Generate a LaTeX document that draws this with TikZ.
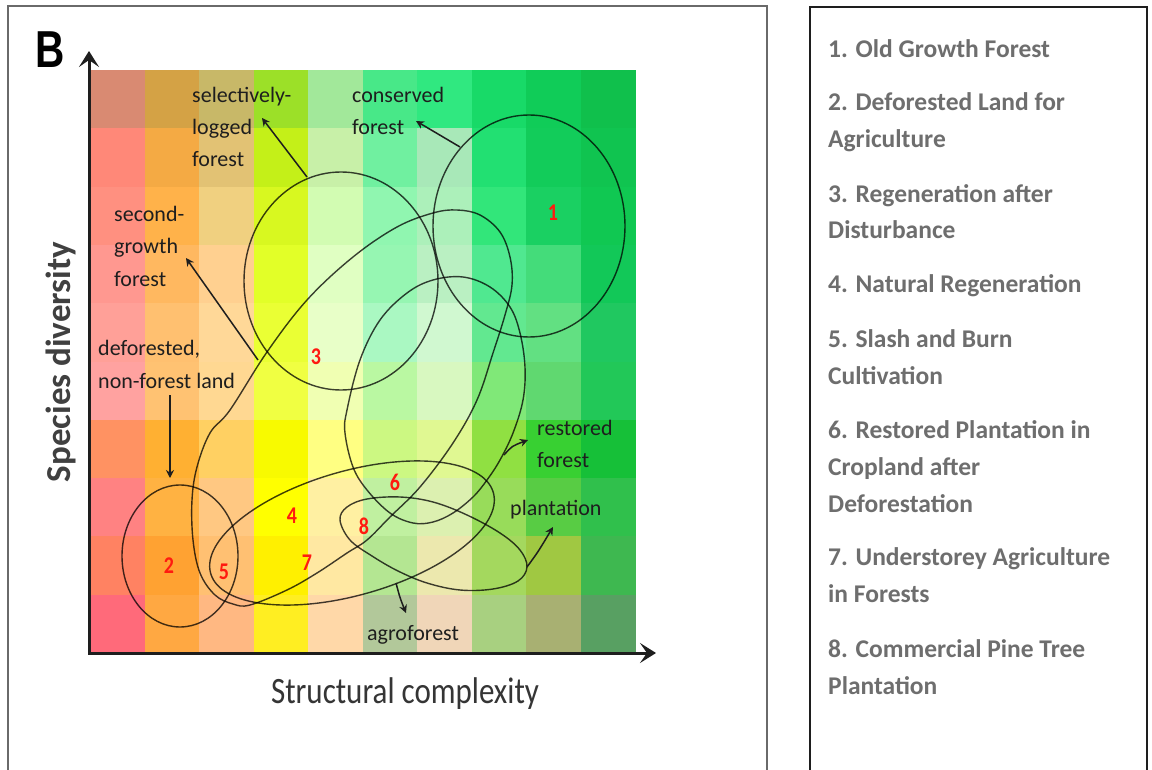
\documentclass[tikz,border=0pt]{standalone}
\usepackage{fontspec}
\setmainfont{Carlito}
\newfontfamily\headfont{Liberation Sans}
\usetikzlibrary{arrows.meta}

\definecolor{framegray}{HTML}{6A6A6A}
\definecolor{legendgray}{HTML}{6E6E6E}
\definecolor{numred}{HTML}{FF1A10}
\definecolor{inkdark}{HTML}{1E1E1E}

\begin{document}
\begin{tikzpicture}[x=1pt,y=-1pt,
  lbl/.style={anchor=base west, inner sep=0pt, font=\fontsize{22}{26}\selectfont, text=inkdark},
  num/.style={inner sep=0pt, font=\fontsize{20}{22}\selectfont\bfseries, text=numred},
  zone/.style={draw=black, draw opacity=.75, line width=1.4pt},
  pointer/.style={draw=inkdark, line width=1.5pt, -{Stealth[length=8pt,width=8pt]}},
  axisline/.style={draw=inkdark, line width=3pt, line cap=butt,
    {Stealth[length=16pt,width=20pt,inset=7pt]}-{Stealth[length=16pt,width=20pt,inset=7pt]}},
  legitem/.style={anchor=base west, inner sep=0pt, font=\fontsize{25.5}{28}\selectfont\bfseries, text=legendgray},
]
\useasboundingbox (0,0) rectangle (1152,770);
\fill[white] (0,0) rectangle (1152,770);

% colour field: 10 x 10 cells, rows listed from top to bottom
\foreach \rowc [count=\r from 0] in {
  {D98A72,D4A245,C8B868,9CE028,A2E89A,48E888,30E880,18DA68,10CC58,10C04C},
  {FF8878,F4AA44,E2C274,C4F018,C8F0A8,70F0A0,A8E8B8,22E072,12CC5A,10C450},
  {FF9080,FFB24A,F0D080,D8F820,D2FCB2,90F6B0,ACF0BA,32E67A,1AD062,10C852},
  {FF9890,FFB860,FFD090,E2FF28,E0FFC2,96F6B2,BAF0C2,50E890,44DC7A,12C858},
  {FFA098,FFC070,FFD898,EAFF34,E8FFC8,AAF8C2,D0F8D0,62E890,62E082,20C860},
  {FFA2A0,FFC272,FFD892,F0FF42,F0FFB2,BAF8A2,D8F8C0,80E878,60D870,22C858},
  {FF9262,FFB032,FFD062,F8FA00,FFFF82,CCF882,E0F892,90E042,38D032,16C038},
  {FF8282,FFB242,FFC882,FFFF00,FFF0A2,C0F0A0,DCF0B0,98DC5A,58CC44,30C04C},
  {FF8262,FFA232,FFC072,FFF000,FFE8A2,B4E692,ECE8AE,A4D85E,A0C842,3EB850},
  {FF6A7A,FFA842,FFB882,FFEE22,FFD8A8,B2C89A,F0D6B8,A8D080,A8B072,58A062}} {
  \foreach \cc [count=\c from 0] in \rowc {
    \definecolor{cellc}{HTML}{\cc}
    \fill[cellc] ({90+54.5*\c},{70+58.3*\r}) rectangle ({90+54.5*(\c+1)+0.6},{70+58.3*(\r+1)+0.6});
  }
}

% outer frames
\draw[framegray, line width=2pt] (8,775) -- (8,6) -- (767,6) -- (767,775);
\draw[inkdark, line width=1.5pt] (810,775) -- (810,7) -- (1147,7) -- (1147,775);

% panel letter
\node[anchor=base west, inner sep=0pt, font=\fontsize{52}{52}\headfont\bfseries, text=black] (panel) at (35,68) {\scalebox{0.78}[1]{B}};

% axes
\coordinate (ytop) at (89,51);
\coordinate (origin) at (89,653);
\coordinate (xend) at (656,653);
\draw[axisline] (ytop) -- (origin) -- (xend);

\node[anchor=base, inner sep=0pt, font=\fontsize{31}{34}\selectfont, text=inkdark!90] (xlab) at (405,703) {\scalebox{1}[1.2]{Structural complexity}};
\node[anchor=base, inner sep=0pt, rotate=90, font=\fontsize{35}{40}\selectfont\bfseries, text=inkdark!85] (ylab) at (70,362) {Species diversity};

% regions
\draw[zone] (529,226) ellipse [x radius=96, y radius=111];
\draw[zone] (180,556) ellipse [x radius=58, y radius=71];
\draw[zone] (341,281) ellipse [x radius=97, y radius=109];
\draw[zone] plot[smooth cycle, tension=0.6] coordinates {
  (250,605) (287,590) (317,573) (347,553) (367,540) (390,517) (420,487) (453,443)
  (477,400) (493,353) (505,315) (512,285) (510,257) (500,232) (480,215) (457,210)
  (433,213) (397,227) (353,257) (307,300) (267,352) (230,410) (210,433) (197,467)
  (192,500) (193,540) (200,573) (215,595) (233,604)};
\draw[zone] plot[smooth cycle, tension=0.6] coordinates {
  (347,410) (360,360) (380,320) (407,293) (433,280) (463,277) (490,287) (510,307)
  (520,333) (525,367) (523,400) (513,433) (500,460) (487,480) (473,497) (453,513)
  (433,522) (413,523) (390,513) (367,490) (353,467) (345,433)};
\draw[zone, rotate around={16:(352,533)}] (352,533) ellipse [x radius=147, y radius=62];
\draw[zone] plot[smooth cycle, tension=0.6] coordinates {
  (340,520) (347,507) (367,499) (400,497) (433,502) (467,515) (500,533) (520,550)
  (527,567) (518,581) (493,589) (460,590) (427,583) (398,571) (372,556) (350,540)};

% region numbers
\node[num] (n1) at (553,213) {\scalebox{1}[1.2]{1}};
\node[num] (n2) at (169,566) {\scalebox{1}[1.2]{2}};
\node[num] (n3) at (316,357) {\scalebox{1}[1.2]{3}};
\node[num] (n4) at (292,516) {\scalebox{1}[1.2]{4}};
\node[num] (n5) at (224,572) {\scalebox{1}[1.2]{5}};
\node[num] (n6) at (395,482) {\scalebox{1}[1.2]{6}};
\node[num] (n7) at (307,563) {\scalebox{1}[1.2]{7}};
\node[num] (n8) at (364,526) {\scalebox{1}[1.2]{8}};

% land-use labels
\node[lbl] (sel1) at (192,103) {selectively-};
\node[lbl] (sel2) at (192,135) {logged};
\node[lbl] (sel3) at (192,167) {forest};
\node[lbl] (con1) at (352,103) {conserved};
\node[lbl] (con2) at (352,135) {forest};
\node[lbl] (sec1) at (114,222) {second-};
\node[lbl] (sec2) at (114,254) {growth};
\node[lbl] (sec3) at (114,287) {forest};
\node[lbl] (def1) at (98,355) {deforested,};
\node[lbl] (def2) at (98,388) {non-forest land};
\node[lbl] (res1) at (537,435) {restored};
\node[lbl] (res2) at (537,467) {forest};
\node[lbl] (pla1) at (510,515) {plantation};
\node[lbl] (agr1) at (367,640) {agroforest};

% pointers from regions to labels
\coordinate (selFrom) at (307,177);  \coordinate (selTo) at (262,118);
\coordinate (conFrom) at (460,147);  \coordinate (conTo) at (416,121);
\coordinate (secFrom) at (258,360);  \coordinate (secTo) at (186,258);
\coordinate (defFrom) at (170,395);  \coordinate (defTo) at (170,478);
\coordinate (resFrom) at (504,455);  \coordinate (resTo) at (528,440);
\coordinate (plaFrom) at (527,567);  \coordinate (plaTo) at (553,527);
\coordinate (agrFrom) at (396,583);  \coordinate (agrTo) at (406,613);
\draw[pointer] (selFrom) -- (selTo);
\draw[pointer] (conFrom) -- (conTo);
\draw[pointer] (secFrom) -- (secTo);
\draw[pointer] (defFrom) -- (defTo);
\draw[pointer] (resFrom) .. controls (512,446) .. (resTo);
\draw[pointer] (plaFrom) .. controls (538,552) .. (plaTo);
\draw[pointer] (agrFrom) .. controls (400,598) .. (agrTo);

% legend
\node[legitem] (L1)  at (828,58)  {1. Old Growth Forest};
\node[legitem] (L2a) at (828,111) {2. Deforested Land for};
\node[legitem] (L2b) at (828,148) {Agriculture};
\node[legitem] (L3a) at (828,203) {3. Regeneration after};
\node[legitem] (L3b) at (828,239) {Disturbance};
\node[legitem] (L4)  at (828,293) {4. Natural Regeneration};
\node[legitem] (L5a) at (828,347) {5. Slash and Burn};
\node[legitem] (L5b) at (828,384) {Cultivation};
\node[legitem] (L6a) at (828,438) {6. Restored Plantation in};
\node[legitem] (L6b) at (828,475) {Cropland after};
\node[legitem] (L6c) at (828,512) {Deforestation};
\node[legitem] (L7a) at (828,565) {7. Understorey Agriculture};
\node[legitem] (L7b) at (828,602) {in Forests};
\node[legitem] (L8a) at (828,657) {8. Commercial Pine Tree};
\node[legitem] (L8b) at (828,694) {Plantation};
\end{tikzpicture}
\end{document}
